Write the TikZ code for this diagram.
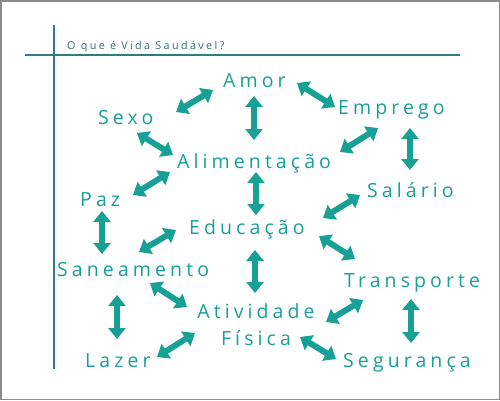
\documentclass[tikz,border=0pt]{standalone}
\usepackage{fontspec}
\setmainfont{Open Sans}
\newfontfamily\wordfont[LetterSpace=21]{Open Sans}
\newfontfamily\titlefont[LetterSpace=22]{Open Sans}
\usetikzlibrary{arrows.meta}
\definecolor{tealmain}{HTML}{17A096}
\definecolor{tealline}{HTML}{2E7D86}
\definecolor{tealtitle}{HTML}{2A7278}
\definecolor{frame}{HTML}{8C8C8C}
\tikzset{
  word/.style={inner sep=0pt, text=tealmain, font=\wordfont\fontsize{19.5}{27}\selectfont, anchor=base west},
  dbl/.style={draw=tealmain, line width=6pt,
    {Triangle[width=17pt,length=11pt]}-{Triangle[width=17pt,length=11pt]}},
  rule/.style={draw=tealline, line width=1.3pt}
}
\begin{document}
\begin{tikzpicture}[x=1pt,y=-1pt]
\useasboundingbox (0,0) rectangle (500,400);
\draw[frame, line width=1.5pt] (0.75,0.75) rectangle (499.25,399.25);
% rules
\coordinate (vt) at (54,25);
\coordinate (vb) at (54,369);
\coordinate (hl) at (25,55);
\coordinate (hr) at (460,55);
\draw[rule] (vt) -- (vb);
\draw[rule] (hl) -- (hr);
\node[inner sep=0pt, anchor=base west, text=tealtitle, font=\titlefont\fontsize{10.8}{12}\selectfont] (title) at (67,49) {O que é Vida Saudável?};
% words
\node[word] (amor) at (223,87) {Amor};
\node[word] (emprego) at (338,114) {Emprego};
\node[word] (sexo) at (98,124) {Sexo};
\node[word] (alim) at (177,168) {Alimentação};
\node[word] (salario) at (367,197) {Salário};
\node[word] (paz) at (80,206) {Paz};
\node[word] (educ) at (189,234) {Educação};
\node[word] (saneam) at (57,276) {Saneamento};
\node[word] (transp) at (344,287) {Transporte};
\node[word, align=center, anchor=base] (ativ) at (256,345) {Atividade\\Física};
\node[word] (lazer) at (85,367) {Lazer};
\node[word] (seg) at (343,367) {Segurança};
% arrow end points
\coordinate (a1s) at (213,90);  \coordinate (a1e) at (176,112);
\coordinate (a2s) at (254,96);  \coordinate (a2e) at (254,140);
\coordinate (a3s) at (297,83);  \coordinate (a3e) at (335,107);
\coordinate (a4s) at (137,133); \coordinate (a4e) at (173,155);
\coordinate (a5s) at (378,128); \coordinate (a5e) at (340,152);
\coordinate (a6s) at (410,128); \coordinate (a6e) at (410,170);
\coordinate (a7s) at (170,172); \coordinate (a7e) at (133,195);
\coordinate (a8s) at (256,172); \coordinate (a8e) at (256,215);
\coordinate (a9s) at (360,195); \coordinate (a9e) at (323,218);
\coordinate (a10s) at (102,211); \coordinate (a10e) at (102,254);
\coordinate (a11s) at (176,230); \coordinate (a11e) at (139,252);
\coordinate (a12s) at (319,236); \coordinate (a12e) at (355,259);
\coordinate (a13s) at (255,250); \coordinate (a13e) at (255,293);
\coordinate (a14s) at (150,283); \coordinate (a14e) at (187,307);
\coordinate (a15s) at (363,300); \coordinate (a15e) at (326,322);
\coordinate (a16s) at (117,295); \coordinate (a16e) at (117,339);
\coordinate (a17s) at (411,299); \coordinate (a17e) at (411,343);
\coordinate (a18s) at (195,333); \coordinate (a18e) at (157,357);
\coordinate (a19s) at (300,337); \coordinate (a19e) at (336,359);
\foreach \i in {1,...,19}{\draw[dbl] (a\i s) -- (a\i e);}
\end{tikzpicture}
\end{document}
